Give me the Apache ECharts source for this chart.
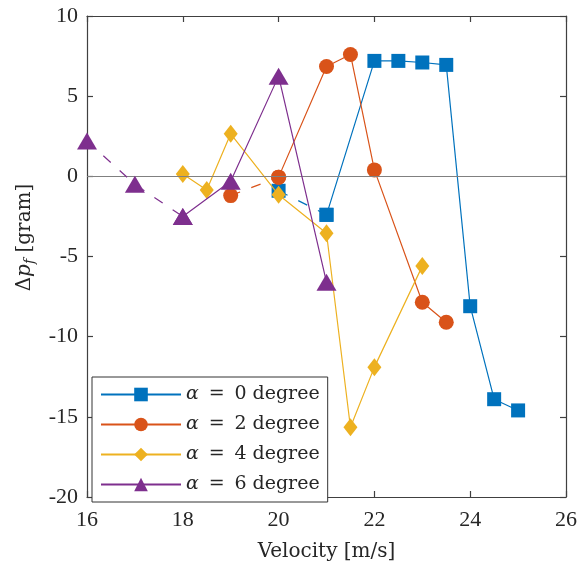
<!DOCTYPE html>
<html>
<head>
<meta charset="utf-8">
<script src="https://cdn.jsdelivr.net/npm/echarts@6/dist/echarts.min.js"></script>
<style>
  html, body { margin: 0; padding: 0; background: #fff; }
  #chart { width: 580px; height: 567px; }
</style>
</head>
<body>
<div id="chart"></div>
<script>
// velocity [m/s] and delta p_f [gram] per angle of attack
var vel0 = [20, 21, 22, 22.5, 23, 23.5, 24, 24.5, 25];
var dp0  = [-0.9, -2.4, 7.2, 7.2, 7.1, 6.95, -8.1, -13.9, -14.6];
var vel2 = [19, 20, 21, 21.5, 22, 23, 23.5];
var dp2  = [-1.2, -0.05, 6.85, 7.6, 0.4, -7.85, -9.1];
var vel4 = [18, 18.5, 19, 20, 21, 21.5, 22, 23];
var dp4  = [0.15, -0.85, 2.65, -1.15, -3.55, -15.65, -11.9, -5.6];
var vel6 = [16, 17, 18, 19, 20, 21];
var dp6  = [2.2, -0.5, -2.5, -0.3, 6.25, -6.6];
// how many leading points are joined by a dashed line
var dashCount = [2, 2, 0, 3];
var names = ['α = 0 degree', 'α = 2 degree', 'α = 4 degree', 'α = 6 degree'];
var colors = ['#0072BD', '#D95319', '#EDB120', '#7E2F8E'];
var symbols = ['rect', 'circle', 'diamond', 'triangle'];
var symbolSizes = [[14, 14], 15, [14, 18], [20, 17]];
var xTicks = [16, 18, 20, 22, 24, 26];
var yTicks = [-20, -15, -10, -5, 0, 5, 10];

var serif = '"Liberation Serif", "DejaVu Serif", serif';
var wide = '"DejaVu Serif", serif';
var chart = echarts.init(document.getElementById('chart'));

var vels = [vel0, vel2, vel4, vel6];
var dps = [dp0, dp2, dp4, dp6];
var series = [];
var dashed = [];
for (var i = 0; i < 4; i++) {
    var pts = vels[i].map(function (v, k) { return [v, dps[i][k]]; });
    var n = dashCount[i];
    var solidPts = n > 0 ? pts.slice(n - 1) : pts;
    series.push({
        name: names[i],
        type: 'line',
        data: solidPts,
        symbol: symbols[i],
        symbolSize: symbolSizes[i],
        showAllSymbol: true,
        color: colors[i],
        itemStyle: { color: colors[i] },
        lineStyle: { color: colors[i], width: 1.2 },
        z: 2 + i,
        animation: false
    });
    if (n > 0) {
        dashed.push({
            name: names[i],
            type: 'line',
            data: pts.slice(0, n),
            symbol: symbols[i],
            symbolSize: symbolSizes[i],
            showAllSymbol: true,
            itemStyle: { color: colors[i] },
            lineStyle: { color: colors[i], width: 1.2, type: [10, 12] },
            z: 2 + i,
            animation: false
        });
    }
}
series = series.concat(dashed);
// zero reference line
series[0].markLine = {
    silent: true,
    symbol: 'none',
    label: { show: false },
    lineStyle: { color: '#808080', width: 1.2, type: 'solid' },
    data: [{ yAxis: 0 }],
    animation: false
};

var axisCommon = {
    type: 'value',
    axisLine: { show: true, onZero: false, lineStyle: { color: '#404040', width: 1.2 } },
    axisTick: { show: true, inside: true, length: 6, lineStyle: { color: '#404040', width: 1.2 } },
    splitLine: { show: false }
};

var option = {
    backgroundColor: '#fff',
    animation: false,
    grid: { left: 87, right: 11, top: 16, bottom: 69 },
    legend: {
        orient: 'vertical',
        left: 92,
        top: 377,
        padding: [8, 8, 8, 8],
        itemWidth: 80,
        itemHeight: 17,
        itemGap: 11,
        backgroundColor: '#fff',
        borderColor: '#333',
        borderWidth: 1,
        data: names,
        formatter: function (name) {
            return '{i|α}\u2009 = \u20090 degree'.replace('0', name.charAt(4));
        },
        textStyle: {
            fontFamily: wide,
            fontSize: 19,
            lineHeight: 17,
            color: '#262626',
            rich: {
                i: { fontFamily: wide, fontStyle: 'italic', fontSize: 19, lineHeight: 17, color: '#262626' }
            }
        }
    },
    xAxis: [
        Object.assign({}, axisCommon, {
            min: 16, max: 26, interval: 2,
            name: 'Velocity [m/s]',
            nameLocation: 'middle',
            nameGap: 45,
            nameTextStyle: { fontFamily: wide, fontSize: 20, color: '#262626' },
            axisLabel: {
                fontFamily: serif, fontSize: 22, color: '#262626', margin: 12,
                formatter: function (v) { return xTicks.indexOf(v) >= 0 ? String(v) : ''; }
            }
        }),
        Object.assign({}, axisCommon, {
            position: 'top', min: 16, max: 26, interval: 2,
            axisLabel: { show: false }
        })
    ],
    yAxis: [
        Object.assign({}, axisCommon, {
            min: -20, max: 10, interval: 5,
            name: '{d|Δ}{p|p}{s|f} {d|[gram]}',
            nameLocation: 'middle',
            nameGap: 48,
            nameRotate: 90,
            nameTextStyle: {
                fontFamily: wide, fontSize: 20, color: '#262626',
                padding: [0, 0, 0, 38],
                rich: {
                    d: { fontFamily: wide, fontSize: 20, color: '#262626' },
                    p: { fontFamily: wide, fontStyle: 'italic', fontSize: 20, color: '#262626' },
                    s: { fontFamily: wide, fontStyle: 'italic', fontSize: 14, color: '#262626', verticalAlign: 'bottom', padding: [12, 0, 0, 0] }
                }
            },
            axisLabel: {
                fontFamily: serif, fontSize: 22, color: '#262626', margin: 9,
                formatter: function (v) { return yTicks.indexOf(v) >= 0 ? String(v) : ''; }
            }
        }),
        Object.assign({}, axisCommon, {
            position: 'right', min: -20, max: 10, interval: 5,
            axisLabel: { show: false }
        })
    ],
    series: series
};

chart.setOption(option);
</script>
</body>
</html>
